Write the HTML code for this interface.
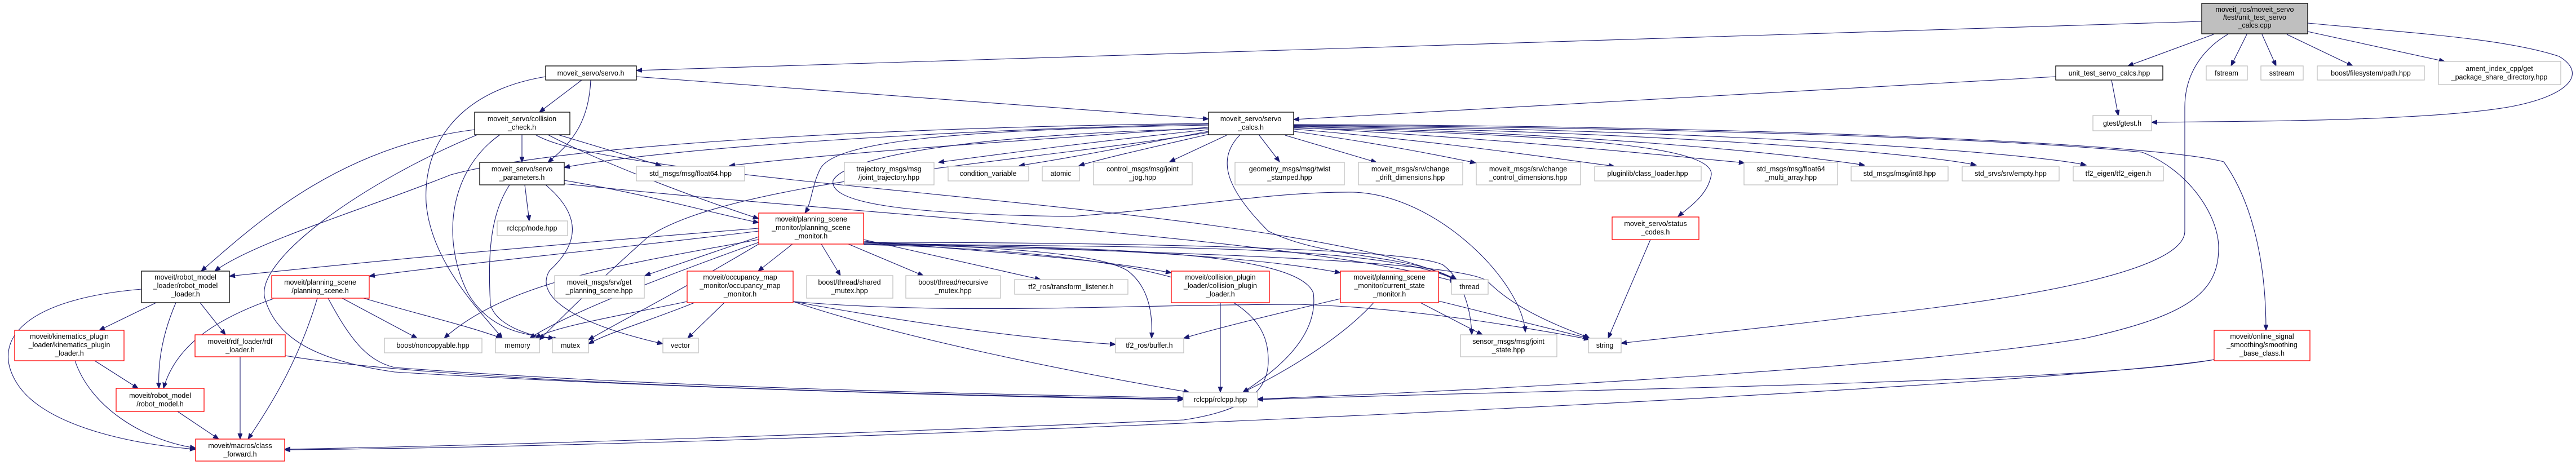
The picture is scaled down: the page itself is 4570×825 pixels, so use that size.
<!DOCTYPE html>
<html><head><meta charset="utf-8"><style>
html,body{margin:0;padding:0;background:#fff;}
svg{display:block;}
text{font-family:"Liberation Sans",sans-serif;font-size:12.5px;fill:#000;text-anchor:middle;}
.e{fill:none;stroke:#191970;stroke-width:1.1;marker-end:url(#a);}
.g{fill:#fff;stroke:#bfbfbf;stroke-width:1.3;}
.r{fill:#fff;stroke:#ff0000;stroke-width:1.3;}
.b{fill:#fff;stroke:#000;stroke-width:1.3;}
</style></head><body>
<svg width="4570" height="825" viewBox="0 0 4570 825" xmlns="http://www.w3.org/2000/svg">
<defs><marker id="a" markerUnits="userSpaceOnUse" markerWidth="11" markerHeight="9" refX="10" refY="4" orient="auto"><path d="M0,0 L10,4 L0,8 z" fill="#191970" stroke="#191970"/></marker></defs>
<rect width="4570" height="825" fill="#fff"/>
<!-- edges -->
<g>
<path class="e" d="M3906,38 L1129,125"/>
<path class="e" d="M3927,61 L3775,117"/>
<path class="e" d="M3986,61 L3958,117"/>
<path class="e" d="M4013,61 L4038,117"/>
<path class="e" d="M4057,61 L4174,117"/>
<path class="e" d="M4094,56 L4337,109"/>
<path class="e" d="M4094,41 C4300,60 4450,70 4540,100 C4590,130 4560,170 4450,190 C4300,215 4000,215 3817,217"/>
<path class="e" d="M3952,61 C3920,80 3876,120 3876,190 L3876,410 C3876,480 3600,530 3300,561 C3150,580 2950,600 2876,609"/>
<path class="e" d="M2295,222 C2800,225 3500,240 3800,270 C3880,300 3936,380 3936,440 C3936,520 3880,560 3700,600 C3400,650 2700,690 2231,708"/>
<path class="e" d="M2295,221 C3000,222 3800,250 3945,287 C3990,350 4020,450 4020,586"/>
<path class="e" d="M3928,638 C3700,680 2800,690 2231,709"/>
<path class="e" d="M3928,638 C3600,690 1500,790 505,798"/>
<path class="e" d="M3647,136 L2295,212"/>
<path class="e" d="M3746,142 L3758,205"/>
<!-- calcs -->
<path class="e" d="M2144,226 C1800,250 1500,270 1294,294"/>
<path class="e" d="M2144,230 C1950,250 1800,270 1665,288"/>
<path class="e" d="M2144,233 C2000,260 1900,280 1808,294"/>
<path class="e" d="M2150,237 C2050,260 1960,280 1914,294"/>
<path class="e" d="M2176,240 L2075,287"/>
<path class="e" d="M2234,240 L2270,287"/>
<path class="e" d="M2280,240 L2442,288"/>
<path class="e" d="M2295,233 C2450,255 2550,275 2618,289"/>
<path class="e" d="M2295,229 C2550,250 2750,280 2864,295"/>
<path class="e" d="M2295,226 C2650,245 2950,275 3095,289"/>
<path class="e" d="M2295,225 C2800,235 3150,270 3308,293"/>
<path class="e" d="M2295,224 C2900,232 3400,270 3506,293"/>
<path class="e" d="M2295,223 C3000,228 3600,270 3701,293"/>
<path class="e" d="M2295,227 C2800,240 3040,260 3036,310 C3030,345 3000,365 2977,384"/>
<path class="e" d="M2144,222 C1700,230 1480,250 1455,300 C1440,330 1440,360 1428,378"/>
<path class="e" d="M2144,220 C1700,230 1200,260 1001,297"/>
<path class="e" d="M2144,219 C1600,225 1000,255 800,310 C650,370 450,430 381,481"/>
<path class="e" d="M2200,239 C2160,280 2170,330 2250,410 C2350,460 2500,450 2583,496"/>
<path class="e" d="M2144,228 C1700,240 1500,280 1478,320 C1470,360 1600,380 1900,384 C2100,370 2250,340 2400,341 C2550,345 2700,500 2706,589"/>
<path class="e" d="M2144,235 C1800,290 1300,320 1150,420 C1060,500 1000,560 957,603"/>
<!-- servo.h -->
<path class="e" d="M1129,136 L2144,211"/>
<path class="e" d="M1032,142 L957,199"/>
<path class="e" d="M1048,142 C1045,210 1020,250 972,288"/>
<path class="e" d="M968,136 C820,160 750,250 756,360 C765,470 860,560 891,600"/>
<!-- collision check -->
<path class="e" d="M926,239 L926,288"/>
<path class="e" d="M842,230 C600,260 450,400 357,481"/>
<path class="e" d="M847,239 C650,320 450,460 470,530 C490,600 560,640 700,660 C1200,690 1800,705 2099,709"/>
<path class="e" d="M887,239 C800,300 780,420 830,520 C870,590 940,595 983,600"/>
<path class="e" d="M990,239 L1173,294"/>
<path class="e" d="M972,239 C1050,280 1200,340 1346,388"/>
<path class="e" d="M950,239 C1100,330 2300,360 2583,496"/>
<!-- servo params -->
<path class="e" d="M931,328 L939,392"/>
<path class="e" d="M904,328 C870,380 865,450 870,540 C880,580 950,600 992,602"/>
<path class="e" d="M968,328 C1030,380 1030,430 975,480 C950,520 1000,570 1176,610"/>
<path class="e" d="M1001,320 C1150,345 1250,375 1346,395"/>
<path class="e" d="M1001,326 C1500,380 2300,420 2583,500"/>
<!-- robot model loader -->
<path class="e" d="M277,537 L176,586"/>
<path class="e" d="M312,537 C285,600 280,650 282,689"/>
<path class="e" d="M355,537 L400,594"/>
<path class="e" d="M251,513 C50,530 -20,600 30,680 C80,760 250,790 347,797"/>
<path class="e" d="M168,640 L245,689"/>
<path class="e" d="M133,640 C160,720 250,780 347,795"/>
<path class="e" d="M315,730 L388,779"/>
<path class="e" d="M426,633 L426,779"/>
<path class="e" d="M506,631 C800,680 1600,700 2099,708"/>
<!-- planning scene -->
<path class="e" d="M485,530 C370,570 310,620 290,689"/>
<path class="e" d="M563,529 C530,640 480,720 440,779"/>
<path class="e" d="M607,529 L740,600"/>
<path class="e" d="M645,529 C750,560 820,575 890,600"/>
<path class="e" d="M582,529 C620,600 650,640 700,652 C1200,690 1800,700 2099,706"/>
<!-- psm -->
<path class="e" d="M1346,410 C1100,440 800,470 655,490"/>
<path class="e" d="M1346,405 C900,440 600,470 407,490"/>
<path class="e" d="M1346,425 C1100,470 900,500 788,600"/>
<path class="e" d="M1346,420 L1144,489"/>
<path class="e" d="M1346,430 C1150,500 1000,560 940,600"/>
<path class="e" d="M1346,433 C1200,520 1100,570 1044,603"/>
<path class="e" d="M1406,433 L1345,481"/>
<path class="e" d="M1457,433 L1491,489"/>
<path class="e" d="M1505,433 L1638,489"/>
<path class="e" d="M1532,425 L1846,496"/>
<path class="e" d="M1532,428 C1800,450 1950,460 2078,484"/>
<path class="e" d="M1532,430 C1900,440 2200,450 2378,484"/>
<path class="e" d="M1532,432 C2000,440 2450,430 2583,497"/>
<path class="e" d="M1532,430 C1800,440 1950,450 2000,480 C2040,510 2045,560 2043,600"/>
<path class="e" d="M1532,432 C1900,440 2300,440 2330,520 C2340,600 2260,660 2205,696"/>
<path class="e" d="M1532,434 C2200,450 2250,560 2250,640 C2250,700 2200,730 2100,745 C1500,770 900,790 505,797"/>
<path class="e" d="M1532,430 C2000,430 2500,440 2560,470 C2600,500 2610,560 2611,594"/>
<path class="e" d="M1532,433 C2000,445 2600,460 2640,500 C2700,560 2800,590 2820,600"/>
<!-- occupancy -->
<path class="e" d="M1285,537 L1220,600"/>
<path class="e" d="M1219,535 C1100,560 980,580 950,600"/>
<path class="e" d="M1232,537 C1150,570 1080,590 1044,610"/>
<path class="e" d="M1407,535 C1600,570 1800,600 1979,611"/>
<path class="e" d="M1407,535 C1600,600 1900,660 2110,696"/>
<path class="e" d="M1407,535 C1700,560 2000,540 2300,540 C2500,545 2700,580 2820,602"/>
<!-- others -->
<path class="e" d="M2165,537 L2165,696"/>
<path class="e" d="M2378,530 C2250,560 2150,585 2100,600"/>
<path class="e" d="M2437,537 C2380,600 2280,660 2205,696"/>
<path class="e" d="M2520,537 L2630,594"/>
<path class="e" d="M2552,534 L2818,600"/>
<path class="e" d="M2928,425 L2853,600"/>
</g>
<!-- nodes -->
<g>
<rect x="3906" y="6" width="188" height="54" fill="#bfbfbf" stroke="#000" stroke-width="1.3"/>
<text x="4000" y="21">moveit_ros/moveit_servo</text><text x="4000" y="35">/test/unit_test_servo</text><text x="4000" y="49">_calcs.cpp</text>

<rect class="b" x="968" y="117" width="161" height="25"/><text x="1048" y="134">moveit_servo/servo.h</text>
<rect class="b" x="3647" y="117" width="190" height="25"/><text x="3742" y="134">unit_test_servo_calcs.hpp</text>
<rect class="g" x="3914" y="117" width="73" height="25"/><text x="3950" y="134">fstream</text>
<rect class="g" x="4011" y="117" width="75" height="25"/><text x="4048" y="134">sstream</text>
<rect class="g" x="4111" y="117" width="190" height="25"/><text x="4206" y="134">boost/filesystem/path.hpp</text>
<rect class="g" x="4326" y="109" width="217" height="41"/><text x="4434" y="126">ament_index_cpp/get</text><text x="4434" y="141">_package_share_directory.hpp</text>
<rect class="g" x="3713" y="205" width="104" height="27"/><text x="3765" y="223">gtest/gtest.h</text>

<rect class="b" x="842" y="199" width="169" height="40"/><text x="926" y="215">moveit_servo/collision</text><text x="926" y="230">_check.h</text>
<rect class="b" x="2144" y="199" width="151" height="40"/><text x="2219" y="215">moveit_servo/servo</text><text x="2219" y="230">_calcs.h</text>
<rect class="b" x="851" y="288" width="150" height="40"/><text x="926" y="304">moveit_servo/servo</text><text x="926" y="319">_parameters.h</text>

<rect class="g" x="1129" y="295" width="192" height="26"/><text x="1225" y="312">std_msgs/msg/float64.hpp</text>
<rect class="g" x="1498" y="288" width="159" height="40"/><text x="1577" y="304">trajectory_msgs/msg</text><text x="1577" y="319">/joint_trajectory.hpp</text>
<rect class="g" x="1682" y="295" width="143" height="26"/><text x="1753" y="312">condition_variable</text>
<rect class="g" x="1849" y="295" width="66" height="26"/><text x="1882" y="312">atomic</text>
<rect class="g" x="1940" y="288" width="175" height="40"/><text x="2027" y="304">control_msgs/msg/joint</text><text x="2027" y="319">_jog.hpp</text>
<rect class="g" x="2191" y="288" width="194" height="40"/><text x="2288" y="304">geometry_msgs/msg/twist</text><text x="2288" y="319">_stamped.hpp</text>
<rect class="g" x="2410" y="288" width="185" height="40"/><text x="2502" y="304">moveit_msgs/srv/change</text><text x="2502" y="319">_drift_dimensions.hpp</text>
<rect class="g" x="2619" y="288" width="185" height="40"/><text x="2711" y="304">moveit_msgs/srv/change</text><text x="2711" y="319">_control_dimensions.hpp</text>
<rect class="g" x="2829" y="295" width="189" height="26"/><text x="2923" y="312">pluginlib/class_loader.hpp</text>
<rect class="g" x="3094" y="288" width="166" height="40"/><text x="3177" y="304">std_msgs/msg/float64</text><text x="3177" y="319">_multi_array.hpp</text>
<rect class="g" x="3284" y="295" width="172" height="26"/><text x="3370" y="312">std_msgs/msg/int8.hpp</text>
<rect class="g" x="3481" y="295" width="172" height="26"/><text x="3567" y="312">std_srvs/srv/empty.hpp</text>
<rect class="g" x="3678" y="295" width="160" height="26"/><text x="3758" y="312">tf2_eigen/tf2_eigen.h</text>

<rect class="g" x="882" y="392" width="125" height="26"/><text x="944" y="409">rclcpp/node.hpp</text>
<rect class="r" x="2860" y="385" width="154" height="40"/><text x="2937" y="401">moveit_servo/status</text><text x="2937" y="416">_codes.h</text>
<rect class="r" x="1346" y="378" width="186" height="55"/><text x="1439" y="393">moveit/planning_scene</text><text x="1439" y="408">_monitor/planning_scene</text><text x="1439" y="423">_monitor.h</text>

<rect class="b" x="251" y="481" width="156" height="56"/><text x="329" y="496">moveit/robot_model</text><text x="329" y="511">_loader/robot_model</text><text x="329" y="526">_loader.h</text>
<rect class="r" x="482" y="489" width="173" height="40"/><text x="568" y="505">moveit/planning_scene</text><text x="568" y="520">/planning_scene.h</text>
<rect class="g" x="984" y="489" width="159" height="40"/><text x="1063" y="505">moveit_msgs/srv/get</text><text x="1063" y="520">_planning_scene.hpp</text>
<rect class="r" x="1219" y="481" width="188" height="56"/><text x="1313" y="496">moveit/occupancy_map</text><text x="1313" y="511">_monitor/occupancy_map</text><text x="1313" y="526">_monitor.h</text>
<rect class="g" x="1431" y="489" width="153" height="40"/><text x="1507" y="505">boost/thread/shared</text><text x="1507" y="520">_mutex.hpp</text>
<rect class="g" x="1607" y="489" width="168" height="40"/><text x="1691" y="505">boost/thread/recursive</text><text x="1691" y="520">_mutex.hpp</text>
<rect class="g" x="1800" y="496" width="201" height="26"/><text x="1900" y="513">tf2_ros/transform_listener.h</text>
<rect class="r" x="2078" y="481" width="174" height="56"/><text x="2165" y="496">moveit/collision_plugin</text><text x="2165" y="511">_loader/collision_plugin</text><text x="2165" y="526">_loader.h</text>
<rect class="r" x="2378" y="481" width="174" height="56"/><text x="2465" y="496">moveit/planning_scene</text><text x="2465" y="511">_monitor/current_state</text><text x="2465" y="526">_monitor.h</text>
<rect class="g" x="2575" y="496" width="65" height="26"/><text x="2607" y="513">thread</text>

<rect class="r" x="26" y="586" width="194" height="54"/><text x="123" y="601">moveit/kinematics_plugin</text><text x="123" y="616">_loader/kinematics_plugin</text><text x="123" y="631">_loader.h</text>
<rect class="r" x="346" y="594" width="160" height="39"/><text x="426" y="610">moveit/rdf_loader/rdf</text><text x="426" y="625">_loader.h</text>
<rect class="g" x="682" y="600" width="173" height="26"/><text x="768" y="617">boost/noncopyable.hpp</text>
<rect class="g" x="879" y="600" width="78" height="26"/><text x="918" y="617">memory</text>
<rect class="g" x="980" y="600" width="64" height="26"/><text x="1012" y="617">mutex</text>
<rect class="g" x="1176" y="600" width="63" height="26"/><text x="1207" y="617">vector</text>
<rect class="g" x="1979" y="600" width="121" height="26"/><text x="2039" y="617">tf2_ros/buffer.h</text>
<rect class="g" x="2591" y="594" width="171" height="39"/><text x="2676" y="610">sensor_msgs/msg/joint</text><text x="2676" y="625">_state.hpp</text>
<rect class="g" x="2818" y="600" width="58" height="26"/><text x="2847" y="617">string</text>
<rect class="r" x="3928" y="586" width="170" height="54"/><text x="4013" y="601">moveit/online_signal</text><text x="4013" y="616">_smoothing/smoothing</text><text x="4013" y="631">_base_class.h</text>

<rect class="r" x="206" y="689" width="156" height="41"/><text x="284" y="706">moveit/robot_model</text><text x="284" y="721">/robot_model.h</text>
<rect class="g" x="2099" y="696" width="132" height="26"/><text x="2165" y="713">rclcpp/rclcpp.hpp</text>
<rect class="r" x="347" y="779" width="158" height="39"/><text x="426" y="795">moveit/macros/class</text><text x="426" y="810">_forward.h</text>
</g>
</svg>
</body></html>
